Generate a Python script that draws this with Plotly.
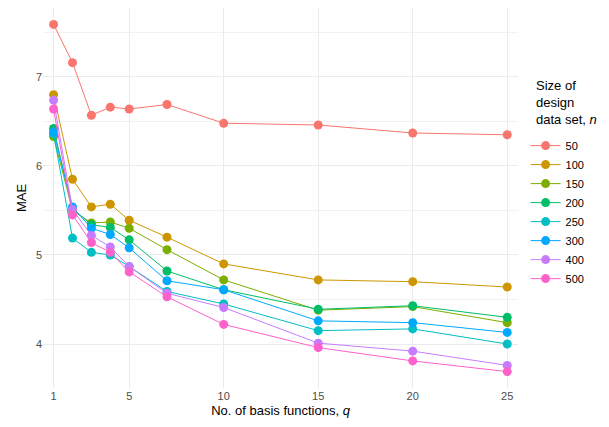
import plotly.graph_objects as go

q = [1, 2, 3, 4, 5, 7, 10, 15, 20, 25]
sizes = ["50", "100", "150", "200", "250", "300", "400", "500"]
mae_50 = [7.59, 7.16, 6.57, 6.66, 6.64, 6.69, 6.48, 6.46, 6.37, 6.35]
mae_100 = [6.80, 5.85, 5.54, 5.57, 5.39, 5.20, 4.90, 4.72, 4.70, 4.64]
mae_150 = [6.33, 5.50, 5.36, 5.37, 5.30, 5.06, 4.72, 4.38, 4.42, 4.24]
mae_200 = [6.42, 5.52, 5.34, 5.31, 5.17, 4.82, 4.61, 4.39, 4.43, 4.30]
mae_250 = [6.36, 5.19, 5.03, 5.00, 4.87, 4.59, 4.45, 4.15, 4.17, 4.00]
mae_300 = [6.38, 5.54, 5.30, 5.23, 5.08, 4.71, 4.61, 4.26, 4.24, 4.13]
mae_400 = [6.74, 5.51, 5.22, 5.09, 4.87, 4.57, 4.41, 4.01, 3.92, 3.76]
mae_500 = [6.64, 5.45, 5.14, 5.03, 4.81, 4.53, 4.22, 3.96, 3.81, 3.69]
series = [mae_50, mae_100, mae_150, mae_200, mae_250, mae_300, mae_400, mae_500]
colors = ["#F8766D", "#CD9600", "#7CAE00", "#00BE67", "#00BFC4", "#00A9FF", "#C77CFF", "#FF61CC"]

fig = go.Figure()
for name, vals, col in zip(sizes, series, colors):
    fig.add_trace(go.Scatter(
        x=q, y=vals, name=name, mode="lines+markers",
        line=dict(color=col, width=1),
        marker=dict(color=col, size=9),
    ))

font = "Liberation Sans, Arial, sans-serif"
fig.update_layout(
    width=609, height=427,
    margin=dict(l=43, r=91, t=8, b=39),
    plot_bgcolor="white", paper_bgcolor="white",
    font=dict(family=font, size=11, color="#4D4D4D"),
    showlegend=True,
    legend=dict(
        x=1.016, xanchor="left", y=0.676, yanchor="top",
        font=dict(size=11, color="black"),
        tracegroupgap=0, itemwidth=30,
    ),
    annotations=[dict(
        text="Size of<br>design<br>data set, <i>n</i>", xref="paper", yref="paper",
        x=1.033, y=0.822, xanchor="left", yanchor="top", align="left", showarrow=False,
        font=dict(size=13, color="black"),
    )],
    xaxis=dict(
        range=[0.44, 25.57], tickvals=[1, 5, 10, 15, 20, 25],
        showgrid=True, gridcolor="#EBEBEB", gridwidth=1, zeroline=False,
        showline=False, ticks="", ticklen=3,
        title=dict(text="No. of basis functions, <i>q</i>", font=dict(size=13, color="black"), standoff=4),
    ),
    yaxis=dict(
        range=[3.506, 7.774], tickvals=[4, 5, 6, 7],
        showgrid=True, gridcolor="#EBEBEB", gridwidth=1, zeroline=False,
        showline=False, ticks="",
        minor=dict(tickvals=[3.5, 4.5, 5.5, 6.5, 7.5], showgrid=True, gridcolor="#F2F2F2", gridwidth=0.6),
        title=dict(text="MAE", font=dict(size=13, color="black"), standoff=6),
    ),
)
fig.write_html("out.html")
